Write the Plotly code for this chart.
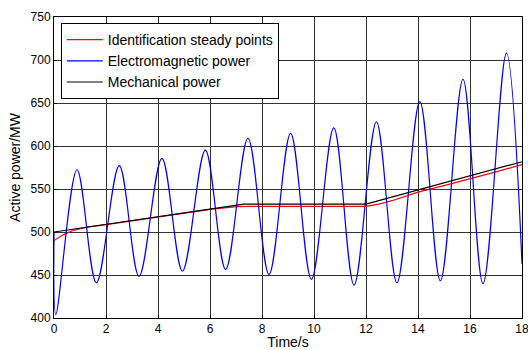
import plotly.graph_objects as go

# Electromagnetic power (blue) - extrema
t_em = [0, 0.07, 0.885, 1.63, 2.51, 3.27, 4.15, 4.94, 5.82, 6.6, 7.46, 8.27,
        9.1, 9.9, 10.76, 11.54, 12.4, 13.19, 14.07, 14.86, 15.73, 16.5, 17.4, 18.0]
p_em = [500, 404, 572.4, 441, 577.1, 448.5, 585.6, 454.6, 595.3, 456.5, 609, 450.7,
        614.7, 445, 621, 438.3, 628, 441, 651.5, 443.3, 677.6, 440, 708, 463]

# Mechanical power (black)
t_mech = [0, 7.3, 12.0, 18.0]
p_mech = [500, 532.5, 532.5, 581.7]

# Identification steady points (red)
t_id = [0, 0.37, 0.7, 1.27, 2, 3, 4, 5, 6, 7, 7.5, 12, 12.5, 13, 14, 15, 16, 17, 18]
p_id = [490, 497, 501.5, 505.6, 508.5, 513, 517.3, 521.8, 526.2, 529.6, 529.8, 529.8,
        532.5, 536.4, 546.4, 554, 561.6, 570, 578.3]

x_ticks = [0, 2, 4, 6, 8, 10, 12, 14, 16, 18]
y_ticks = [400, 450, 500, 550, 600, 650, 700, 750]

FONT = "Liberation Sans, Arial, sans-serif"

fig = go.Figure()
fig.add_trace(go.Scatter(x=t_id, y=p_id, mode="lines", name="Identification steady points",
                         line=dict(color="#ff0000", width=1.2)))
fig.add_trace(go.Scatter(x=t_em, y=p_em, mode="lines", name="Electromagnetic power",
                         line=dict(color="#0000ff", width=1.2, shape="spline", smoothing=1)))
fig.add_trace(go.Scatter(x=t_mech, y=p_mech, mode="lines", name="Mechanical power",
                         line=dict(color="#000000", width=1.2)))

fig.update_layout(
    width=528, height=350,
    margin=dict(l=54, r=6, t=17, b=32, autoexpand=False),
    paper_bgcolor="white", plot_bgcolor="white",
    font=dict(family=FONT, size=12, color="black"),
    showlegend=True,
    legend=dict(x=0.0145, y=0.98, xanchor="left", yanchor="top",
                bgcolor="white", bordercolor="black", borderwidth=1,
                font=dict(family=FONT, size=14, color="black"),
                traceorder="normal", itemwidth=36, tracegroupgap=0),
    xaxis=dict(range=[0, 18], tickvals=x_ticks, ticktext=[str(v) for v in x_ticks],
               showgrid=True, gridcolor="#333333", gridwidth=1,
               showline=True, linecolor="black", linewidth=1, mirror=True,
               ticks="inside", ticklen=3, tickcolor="black", automargin=False,
               ticklabeloverflow="allow",
               tickfont=dict(size=12), zeroline=False,
               title=dict(text="Time/s", font=dict(size=14), standoff=6)),
    yaxis=dict(range=[400, 750], tickvals=y_ticks, ticktext=[str(v) for v in y_ticks],
               showgrid=True, gridcolor="#333333", gridwidth=1,
               showline=True, linecolor="black", linewidth=1, mirror=True,
               ticks="inside", ticklen=3, tickcolor="black", automargin=False,
               tickfont=dict(size=12), zeroline=False,
               title=dict(text="Active power/MW", font=dict(size=14), standoff=6)),
)

fig.write_html("out.html", config={"displayModeBar": False},
               post_script="document.body.style.margin='0px';document.body.style.overflow='hidden';")
